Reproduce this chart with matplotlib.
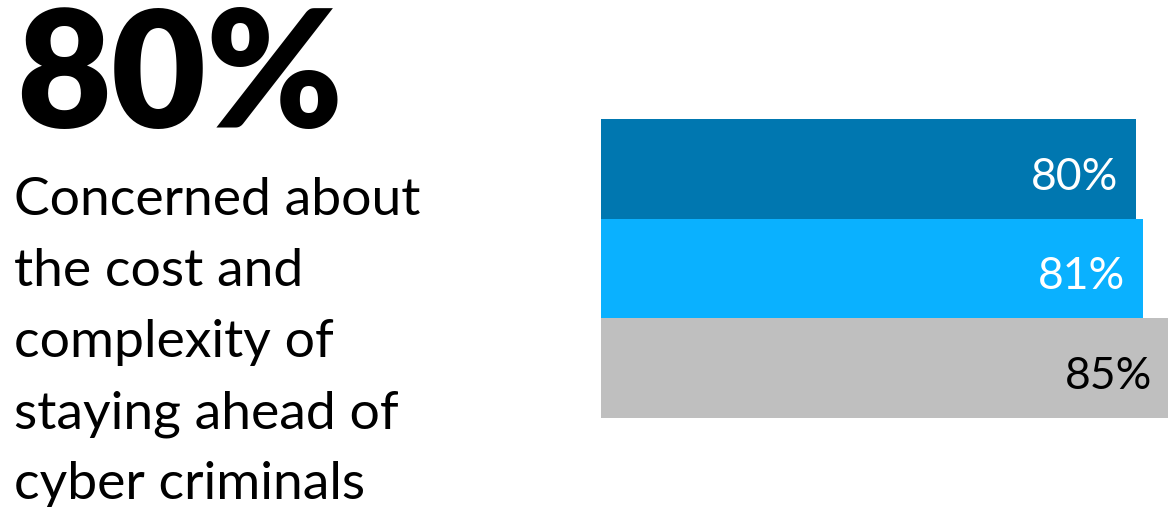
import matplotlib.pyplot as plt

# data
groups = ['A', 'B', 'C']
values = [80, 81, 85]
labels = ['80%', '81%', '85%']
bar_colors = ['#0077B0', '#0AB1FF', '#BFBFBF']
label_colors = ['white', 'white', 'black']

headline = '80%'
body_lines = ['Concerned about', 'the cost and', 'complexity of',
              'staying ahead of', 'cyber criminals']

W, H = 1168, 507
fig = plt.figure(figsize=(W / 100, H / 100), dpi=100)
fig.patch.set_facecolor('white')

# bars on the right
ax = fig.add_axes([601 / W, (H - 418) / H, (W - 601) / W, (418 - 119) / H])
ypos = list(range(len(values)))
ax.barh(ypos, values, height=1.0, color=bar_colors, edgecolor='none')
ax.set_xlim(0, 84.8)
ax.set_ylim(len(values) - 0.5, -0.5)
for y, v, lab, c in zip(ypos, values, labels, label_colors):
    ax.text(v - 2.6, y + 0.21, lab, ha='right', va='baseline', color=c,
            fontsize=32, family='Lato')
ax.axis('off')

# big number + description on the left
fig.text(16 / W, (H - 128) / H, headline, ha='left', va='baseline',
         fontsize=118, fontweight='heavy', family='Lato', color='black')
base = 215
for i, line in enumerate(body_lines):
    fig.text(14 / W, (H - (base + i * 71.0)) / H, line, ha='left',
             va='baseline', fontsize=38.5, family='Lato', color='black')

fig.savefig('out.png', dpi=100, facecolor='white')
